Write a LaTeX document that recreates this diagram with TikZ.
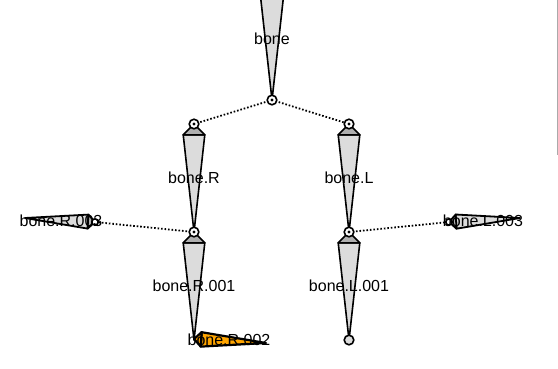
\documentclass[tikz,border=0pt]{standalone}
\usepackage{fontspec}
\setmainfont{Liberation Sans}
\usetikzlibrary{calc}
\definecolor{bodygray}{RGB}{220,220,220}
\definecolor{capgray}{RGB}{175,175,175}
\definecolor{selorange}{RGB}{255,165,0}
\definecolor{selcap}{RGB}{240,150,0}
\definecolor{edgegray}{RGB}{170,170,170}
\tikzset{
  boneline/.style={draw=black, line width=1.6pt, line join=round},
  parentlink/.style={draw=black, line width=1.8pt, dash pattern=on 1.6pt off 1.9pt},
  jointdot/.style={circle, fill=black, inner sep=0pt, minimum size=3.4pt},
  bonelabel/.style={font=\fontsize{16}{19}\selectfont, inner sep=0pt, text=black}
}
\newcommand\drawbone[5]{% head, tail, body fill, cap fill, line width
  \coordinate (tmpM) at ($(#1)!0.1!(#2)$);
  \coordinate (tmpA) at ($(tmpM)!0.1111!90:(#2)$);
  \coordinate (tmpB) at ($(tmpM)!0.1111!-90:(#2)$);
  \path[boneline, line width=#5, fill=#3] (tmpA) -- (#2) -- (tmpB) -- cycle;
  \path[boneline, line width=#5, fill=#4] (tmpA) -- (#1) -- (tmpB) -- cycle;
}
\newcommand\joint[3]{% coordinate, radius, fill
  \path[draw=black, line width=1.6pt, fill=#3] (#1) circle (#2);
}
\begin{document}
\begin{tikzpicture}[x=1pt, y=-1pt]
\useasboundingbox (0,0) rectangle (558,368);
\clip (0,0) rectangle (558,368);
% coordinates of heads and tails
\coordinate (b-h) at (272,-22);
\coordinate (b-t) at (272,100);
\coordinate (bR-h) at (194,124);
\coordinate (bR-t) at (194,232);
\coordinate (bL-h) at (349,124);
\coordinate (bL-t) at (349,232);
\coordinate (bR1-h) at (194,232);
\coordinate (bR1-t) at (194,340);
\coordinate (bL1-h) at (349,232);
\coordinate (bL1-t) at (349,340);
\coordinate (bR3-h) at (95,222);
\coordinate (bR3-t) at (25,218);
\coordinate (bL3-h) at (449,222);
\coordinate (bL3-t) at (520,218);
\coordinate (bR2-h) at (194,339);
\coordinate (bR2-t) at (266,343);
\coordinate (edgeTop) at (557,0);
\coordinate (edgeBot) at (557,155);
% window edge
\draw[edgegray, line width=1pt] (edgeTop) -- (edgeBot);
% parent relationship lines
\draw[parentlink] (b-t) -- (bR-h);
\draw[parentlink] (b-t) -- (bL-h);
\draw[parentlink] (bR-t) -- (bR3-h);
\draw[parentlink] (bL-t) -- (bL3-h);
% bones
\drawbone{b-h}{b-t}{bodygray}{capgray}{1.6pt}
\drawbone{bR-h}{bR-t}{bodygray}{capgray}{1.6pt}
\drawbone{bL-h}{bL-t}{bodygray}{capgray}{1.6pt}
\drawbone{bR1-h}{bR1-t}{bodygray}{capgray}{1.6pt}
\drawbone{bL1-h}{bL1-t}{bodygray}{capgray}{1.6pt}
\drawbone{bR3-h}{bR3-t}{bodygray}{capgray}{1.8pt}
\drawbone{bL3-h}{bL3-t}{bodygray}{capgray}{1.8pt}
\drawbone{bR2-h}{bR2-t}{selorange}{selcap}{2.2pt}
% joints
\joint{b-t}{4.8pt}{white}
\joint{bR-h}{4.8pt}{white}
\joint{bL-h}{4.8pt}{white}
\joint{bR1-h}{4.8pt}{white}
\joint{bL1-h}{4.8pt}{white}
\joint{bL1-t}{4.8pt}{bodygray}
\joint{bR3-h}{3.2pt}{white}
\joint{bL3-h}{3.2pt}{white}
\node[jointdot] (d1) at (b-t) {};
\node[jointdot] (d2) at (bR-h) {};
\node[jointdot] (d3) at (bL-h) {};
\node[jointdot] (d4) at (bR1-h) {};
\node[jointdot] (d5) at (bL1-h) {};
% labels
\node[bonelabel] (lb) at (272,39) {bone};
\node[bonelabel] (lbR) at (194,178) {bone.R};
\node[bonelabel] (lbL) at (349,178) {bone.L};
\node[bonelabel] (lbR1) at (194,286) {bone.R.001};
\node[bonelabel] (lbL1) at (349,286) {bone.L.001};
\node[bonelabel] (lbR3) at (61,221) {bone.R.003};
\node[bonelabel] (lbL3) at (483,221) {bone.L.003};
\node[bonelabel] (lbR2) at (229,340) {bone.R.002};
\end{tikzpicture}
\end{document}
